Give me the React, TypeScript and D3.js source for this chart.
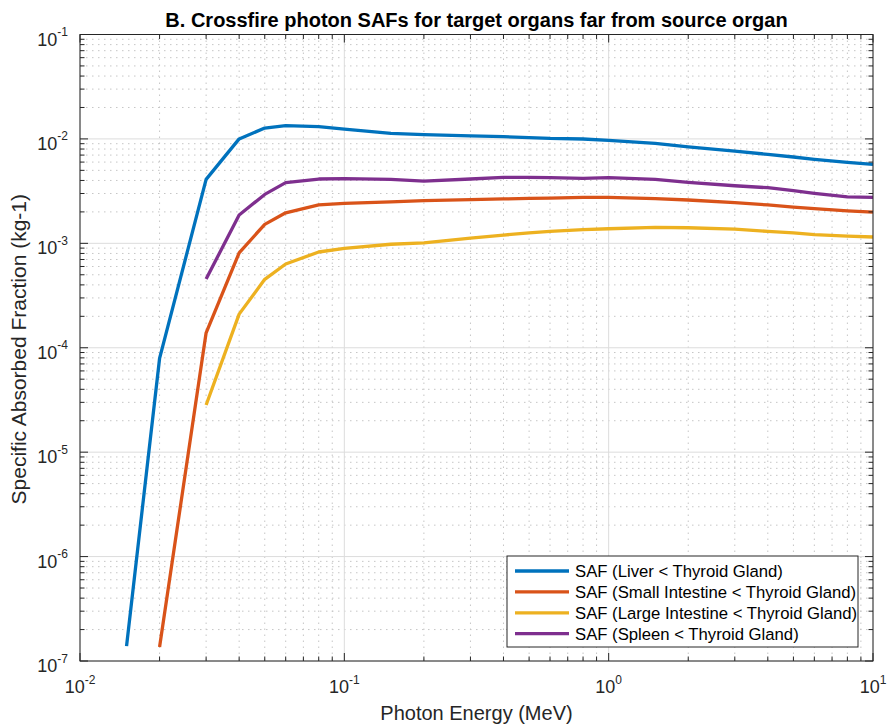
import React from "react";
import * as d3 from "d3";

const energies = [0.01, 0.015, 0.02, 0.03, 0.04, 0.05, 0.06, 0.08, 0.1, 0.15, 0.2, 0.3, 0.4, 0.5, 0.6, 0.8, 1, 1.5, 2, 3, 4, 5, 6, 8, 10];

const liver = [null, 1.39e-7, 7.9e-5, 4.1e-3, 1.0e-2, 1.27e-2, 1.34e-2, 1.31e-2, 1.24e-2, 1.13e-2, 1.10e-2, 1.07e-2, 1.05e-2, 1.03e-2, 1.01e-2, 9.98e-3, 9.7e-3, 9.08e-3, 8.41e-3, 7.65e-3, 7.11e-3, 6.71e-3, 6.38e-3, 5.97e-3, 5.71e-3];
const smallIntestine = [null, null, 1.36e-7, 1.39e-4, 8.1e-4, 1.52e-3, 1.96e-3, 2.34e-3, 2.41e-3, 2.49e-3, 2.56e-3, 2.62e-3, 2.66e-3, 2.69e-3, 2.71e-3, 2.75e-3, 2.76e-3, 2.68e-3, 2.6e-3, 2.45e-3, 2.33e-3, 2.22e-3, 2.15e-3, 2.05e-3, 1.99e-3];
const largeIntestine = [null, null, null, 2.83e-5, 2.1e-4, 4.52e-4, 6.34e-4, 8.26e-4, 8.95e-4, 9.8e-4, 1.01e-3, 1.12e-3, 1.2e-3, 1.26e-3, 1.3e-3, 1.35e-3, 1.38e-3, 1.42e-3, 1.41e-3, 1.37e-3, 1.3e-3, 1.26e-3, 1.21e-3, 1.17e-3, 1.15e-3];
const spleen = [null, null, null, 4.55e-4, 1.87e-3, 2.94e-3, 3.81e-3, 4.13e-3, 4.16e-3, 4.09e-3, 3.95e-3, 4.13e-3, 4.28e-3, 4.28e-3, 4.25e-3, 4.19e-3, 4.26e-3, 4.1e-3, 3.84e-3, 3.56e-3, 3.41e-3, 3.19e-3, 3.01e-3, 2.79e-3, 2.76e-3];

const seriesNames = [
  "SAF (Liver < Thyroid Gland)",
  "SAF (Small Intestine < Thyroid Gland)",
  "SAF (Large Intestine < Thyroid Gland)",
  "SAF (Spleen < Thyroid Gland)",
];
const seriesValues = [liver, smallIntestine, largeIntestine, spleen];
const seriesColors = ["#0072BD", "#D95319", "#EDB120", "#7E2F8E"];

const xTickExps = [-2, -1, 0, 1];
const yTickExps = [-7, -6, -5, -4, -3, -2, -1];

const title = "B. Crossfire photon SAFs for target organs far from source organ";
const xLabel = "Photon Energy (MeV)";
const yLabel = "Specific Absorbed Fraction (kg-1)";

const W = 891, H = 726;
const L = 80, R = 873, T = 34.5, B = 661;
const FONT = "'Liberation Sans', Arial, Helvetica, sans-serif";
const AX = "#262626";

export default function App() {
  const x = d3.scaleLog().domain([1e-2, 10]).range([L, R]);
  const y = d3.scaleLog().domain([1e-7, 1e-1]).range([B, T]);

  const minorX: number[] = [];
  for (let e = -2; e < 1; e++) for (let m = 2; m <= 9; m++) minorX.push(m * Math.pow(10, e));
  const minorY: number[] = [];
  for (let e = -7; e < -1; e++) for (let m = 2; m <= 9; m++) minorY.push(m * Math.pow(10, e));

  const line = d3
    .line<[number, number | null]>()
    .defined((d) => d[1] != null)
    .x((d) => x(d[0]))
    .y((d) => y(d[1] as number));

  const majLen = 8, minLen = 4.5;

  return (
    <svg width={W} height={H} style={{ position: "absolute", left: 0, top: 0, background: "#fff" }} fontFamily={FONT}>
      <rect x={0} y={0} width={W} height={H} fill="#fff" />
      {/* minor grid */}
      <g stroke="#c6c6c6" strokeWidth={1} strokeDasharray="1.5,4.5">
        {minorX.map((v, i) => (
          <line key={"mx" + i} x1={x(v)} x2={x(v)} y1={T} y2={B} />
        ))}
        {minorY.map((v, i) => (
          <line key={"my" + i} x1={L} x2={R} y1={y(v)} y2={y(v)} />
        ))}
      </g>
      {/* major grid */}
      <g stroke="#dcdcdc" strokeWidth={1}>
        {xTickExps.map((e) => (
          <line key={"gx" + e} x1={x(Math.pow(10, e))} x2={x(Math.pow(10, e))} y1={T} y2={B} />
        ))}
        {yTickExps.map((e) => (
          <line key={"gy" + e} x1={L} x2={R} y1={y(Math.pow(10, e))} y2={y(Math.pow(10, e))} />
        ))}
      </g>
      {/* series */}
      <g fill="none" strokeWidth={3.3} strokeLinejoin="round">
        {seriesValues.map((vals, i) => (
          <path
            key={"s" + i}
            d={line(energies.map((e, j) => [e, vals[j]] as [number, number | null])) || ""}
            stroke={seriesColors[i]}
          />
        ))}
      </g>
      {/* axes box and ticks */}
      <g stroke={AX} strokeWidth={1} fill="none">
        <rect x={L} y={T} width={R - L} height={B - T} />
        {xTickExps.map((e) => {
          const px = x(Math.pow(10, e));
          return (
            <g key={"tx" + e}>
              <line x1={px} x2={px} y1={B} y2={B - majLen} />
              <line x1={px} x2={px} y1={T} y2={T + majLen} />
            </g>
          );
        })}
        {minorX.map((v, i) => (
          <g key={"tmx" + i}>
            <line x1={x(v)} x2={x(v)} y1={B} y2={B - minLen} />
            <line x1={x(v)} x2={x(v)} y1={T} y2={T + minLen} />
          </g>
        ))}
        {yTickExps.map((e) => {
          const py = y(Math.pow(10, e));
          return (
            <g key={"ty" + e}>
              <line x1={L} x2={L + majLen} y1={py} y2={py} />
              <line x1={R} x2={R - majLen} y1={py} y2={py} />
            </g>
          );
        })}
        {minorY.map((v, i) => (
          <g key={"tmy" + i}>
            <line x1={L} x2={L + minLen} y1={y(v)} y2={y(v)} />
            <line x1={R} x2={R - minLen} y1={y(v)} y2={y(v)} />
          </g>
        ))}
      </g>
      {/* tick labels */}
      <g fill={AX} fontSize={18}>
        {xTickExps.map((e) => (
          <text key={"lx" + e} x={x(Math.pow(10, e))} y={693} textAnchor="middle">
            <tspan>10</tspan>
            <tspan fontSize={12} dy={-9.5}>{String(e)}</tspan>
          </text>
        ))}
        {yTickExps.map((e) => (
          <text key={"ly" + e} x={68} y={y(Math.pow(10, e)) + 11} textAnchor="end">
            <tspan>10</tspan>
            <tspan fontSize={12} dy={-9.5}>{String(e)}</tspan>
          </text>
        ))}
      </g>
      {/* labels */}
      <text x={(L + R) / 2} y={719.5} textAnchor="middle" fontSize={20} fill={AX}>
        {xLabel}
      </text>
      <text
        transform={`translate(25.5,${(T + B) / 2 + 1.5}) rotate(-90)`}
        textAnchor="middle"
        fontSize={21}
        fill={AX}
      >
        {yLabel}
      </text>
      <text x={(L + R) / 2} y={26.5} textAnchor="middle" fontSize={20} fontWeight="bold" fill="#000">
        {title}
      </text>
      {/* legend */}
      <g>
        <rect x={507} y={556} width={351} height={91} fill="#fff" stroke={AX} strokeWidth={1} />
        {seriesNames.map((n, i) => {
          const ry = 571 + i * 20.9;
          return (
            <g key={"lg" + i}>
              <line x1={515} x2={569} y1={ry} y2={ry} stroke={seriesColors[i]} strokeWidth={3.3} />
              <text x={575} y={ry + 5.8} fontSize={16.7} fill="#000">
                {n}
              </text>
            </g>
          );
        })}
      </g>
    </svg>
  );
}
